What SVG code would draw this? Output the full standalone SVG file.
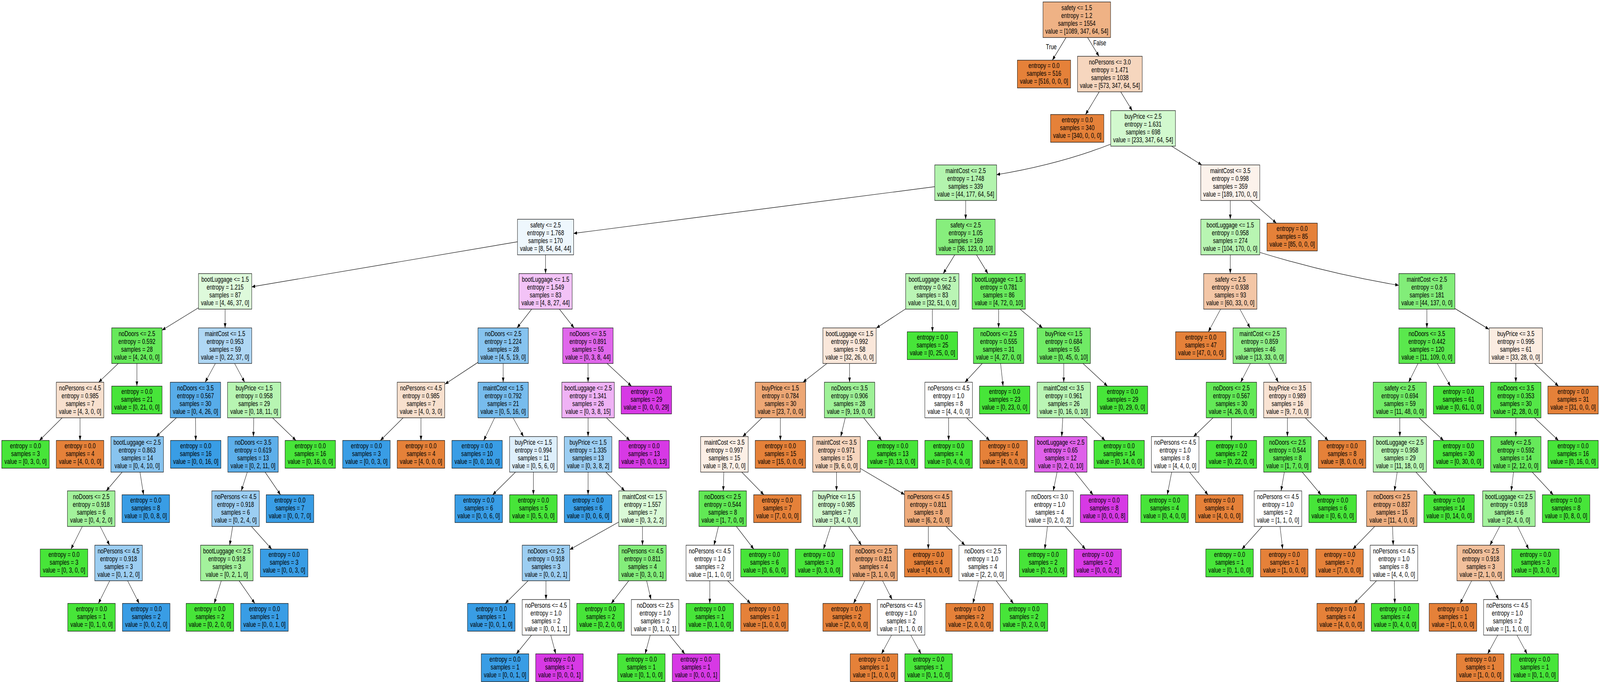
<svg xmlns="http://www.w3.org/2000/svg" width="5587" height="1745" viewBox="0 0 5587 1745" preserveAspectRatio="none" style="width:100vw;height:100vh">
<defs>
<style>
text{font-family:"Liberation Sans",Arial,Helvetica,sans-serif;font-size:18.5px;text-anchor:middle;fill:#000}
.nd rect{stroke:#000;stroke-width:1.2}
.c0{fill:#e58139}.c1{fill:#47e539}.c2{fill:#399de5}.c3{fill:#d739e5}
#edges path{fill:none;stroke:#000;stroke-width:1.2;marker-end:url(#ah)}
</style>
<marker id="ah" viewBox="0 0 12 9" refX="12" refY="4.5" markerWidth="12" markerHeight="9" orient="auto" markerUnits="userSpaceOnUse"><path d="M0,0 L12,4.5 L0,9 Z" fill="#000"/></marker>
</defs>
<rect width="5587" height="1745" fill="#fff"/>
<g id="edges">
<path d="M3722.5,96 L3674.7,154"/><path d="M3797.8,96 L3837.7,144"/>
<path d="M3838.2,235 L3790.6,293"/><path d="M3913.5,235 L3953.5,283"/>
<path d="M3878,369 Q3700,420 3480,447"/><path d="M4091.2,374 L4196.3,422"/>
<path d="M3264,477.7 L2003,597.2"/><path d="M3372,513 L3372,561"/>
<path d="M4296,513 L4296,561"/><path d="M4366.7,513 L4456.8,571"/>
<path d="M1807,618.7 L879,733.9"/><path d="M1905,652 L1905,700"/>
<path d="M3333.9,652 L3293.6,700"/><path d="M3409.8,652 L3449.7,700"/>
<path d="M4296,652 L4296,700"/><path d="M4400,646 Q4640,700 4884,730"/>
<path d="M693,787.5 L566,844.8"/><path d="M786,791 L786,839"/>
<path d="M1856.6,791 L1805.4,839"/><path d="M1953.4,791 L2004.6,839"/>
<path d="M3162,790.5 L3060,839.5"/><path d="M3255.7,791 L3256,849"/>
<path d="M3487.3,791 L3487,839"/><path d="M3561.8,791 L3640.2,839"/>
<path d="M4262.3,791 L4219.3,849"/><path d="M4329.6,791 L4365,839"/>
<path d="M4982.5,791 L4982.5,839"/><path d="M5081,789.6 L5199,842.4"/>
<path d="M413,930 L344.5,978"/><path d="M478,930 L478,988"/>
<path d="M752.1,930 L716.4,978"/><path d="M819.2,930 L854.3,978"/>
<path d="M1669,927.1 L1554,982.8"/><path d="M1757,930 L1757,978"/>
<path d="M2053.2,930 L2053.5,978"/><path d="M2119.8,930 L2204.9,988"/>
<path d="M2887.4,930 L2804,978"/><path d="M2966.5,930 L2966.5,978"/>
<path d="M3429.9,930 L3369.6,978"/><path d="M3493.9,930 L3502.6,988"/>
<path d="M3714.5,930 L3714.5,978"/><path d="M3781.6,930 L3867.1,988"/>
<path d="M4366.3,930 L4332.2,978"/><path d="M4430.3,930 L4463.8,978"/>
<path d="M4951.6,930 L4918.9,978"/><path d="M5018.7,930 L5064.8,988"/>
<path d="M5293,930 L5293,978"/><path d="M5358.5,930 L5441.9,988"/>
<path d="M217.1,1069 L137.7,1127"/><path d="M279.5,1069 L279.5,1127"/>
<path d="M615.9,1069 L545.6,1117"/><path d="M682.8,1069 L683.5,1127"/>
<path d="M886.2,1069 L884.8,1117"/><path d="M951.7,1069 L1033.4,1127"/>
<path d="M1407.6,1069 L1328.2,1127"/><path d="M1470,1069 L1470,1127"/>
<path d="M1727.2,1069 L1689.2,1127"/><path d="M1791.5,1069 L1828,1117"/>
<path d="M2053.5,1069 L2053.5,1117"/><path d="M2117.5,1069 L2199.1,1127"/>
<path d="M2661,1069 L2593.5,1117"/><path d="M2725,1069 L2725,1127"/>
<path d="M2951.6,1069 L2935.9,1117"/><path d="M3015.8,1069 L3078.6,1127"/>
<path d="M3312.5,1069 L3312.5,1127"/><path d="M3375.4,1069 L3455.5,1127"/>
<path d="M3711.1,1069 L3707.4,1117"/><path d="M3777.8,1069 L3858.6,1127"/>
<path d="M4235.7,1069 L4167.8,1117"/><path d="M4300,1069 L4300,1127"/>
<path d="M4495.5,1069 L4495.5,1117"/><path d="M4558,1069 L4637.7,1127"/>
<path d="M4888,1069 L4888,1117"/><path d="M4955.1,1069 L5040.6,1127"/>
<path d="M5293,1069 L5293,1117"/><path d="M5358.5,1069 L5441.9,1127"/>
<path d="M426.5,1208 L371,1256"/><path d="M488.8,1208 L501.3,1266"/>
<path d="M863.5,1208 L842.5,1256"/><path d="M925.7,1208 L979.6,1266"/>
<path d="M1800,1208 L1720.3,1266"/><path d="M1862.5,1208 L1862.5,1266"/>
<path d="M2053.5,1208 L2053.5,1266"/><path d="M2115.7,1208 L2181.3,1256"/>
<path d="M2527.5,1208 L2525.5,1256"/><path d="M2590.1,1208 L2667.3,1266"/>
<path d="M2921,1208 L2921,1256"/><path d="M3004,1198.5 L3158.5,1265.5"/>
<path d="M3691.2,1208 L3677.8,1256"/><path d="M3753.6,1208 L3816.8,1266"/>
<path d="M4091.4,1208 L4076,1266"/><path d="M4153.9,1208 L4218.2,1266"/>
<path d="M4484.7,1208 L4473.3,1256"/><path d="M4547.2,1208 L4613.1,1266"/>
<path d="M4878.8,1208 L4869.2,1256"/><path d="M4944.3,1208 L5016.1,1266"/>
<path d="M5285.1,1208 L5276.9,1256"/><path d="M5350.4,1208 L5423.7,1266"/>
<path d="M287.4,1347 L247.8,1405"/><path d="M349.8,1347 L382.7,1395"/>
<path d="M812.5,1347 L802,1395"/><path d="M878,1347 L948.7,1405"/>
<path d="M2160.5,1335.7 L1989.5,1406.3"/><path d="M2243.5,1347 L2243.5,1395"/>
<path d="M2508.8,1347 L2493.2,1395"/><path d="M2571.3,1347 L2632.2,1405"/>
<path d="M2901,1347 L2875.6,1405"/><path d="M2963.4,1347 L3008.1,1395"/>
<path d="M3241.5,1347 L3241.5,1405"/><path d="M3303.7,1347 L3369.3,1395"/>
<path d="M3657.6,1347 L3648.2,1405"/><path d="M3720,1347 L3790.1,1405"/>
<path d="M4407.2,1347 L4336.7,1405"/><path d="M4469.7,1347 L4478.9,1405"/>
<path d="M4800.3,1347 L4724.1,1405"/><path d="M4862.5,1347 L4865,1395"/>
<path d="M5236.8,1347 L5202.7,1395"/><path d="M5299.3,1347 L5337.9,1405"/>
<path d="M383.1,1486 L343.6,1544"/><path d="M445.6,1486 L485.9,1544"/>
<path d="M772.7,1486 L748.1,1544"/><path d="M835,1486 L889.9,1544"/>
<path d="M1844,1486 L1764.3,1544"/><path d="M1906.5,1486 L1906.5,1534"/>
<path d="M2195.5,1486 L2134.4,1544"/><path d="M2257.9,1486 L2273.1,1534"/>
<path d="M2478.5,1486 L2478.5,1544"/><path d="M2541,1486 L2620.7,1544"/>
<path d="M3019.7,1486 L2980.5,1544"/><path d="M3081.9,1486 L3115.1,1534"/>
<path d="M3416.4,1486 L3397.3,1544"/><path d="M3478.6,1486 L3538.7,1544"/>
<path d="M4806.6,1486 L4729,1544"/><path d="M4868.8,1486 L4870.5,1544"/>
<path d="M5138.8,1486 L5098.3,1544"/><path d="M5200.9,1486 L5233.1,1534"/>
<path d="M1856.1,1625 L1802.9,1673"/><path d="M1923.1,1625 L1940.6,1673"/>
<path d="M2270.6,1625 L2252.7,1673"/><path d="M2337.9,1625 L2391.2,1673"/>
<path d="M3113.2,1625 L3078,1673"/><path d="M3180.4,1625 L3216.1,1673"/>
<path d="M5230,1625 L5194.6,1673"/><path d="M5297,1625 L5332.4,1673"/>
<text x="3671" y="126">True</text>
<text x="3840" y="116">False</text>
</g>
<g id="n0" class="nd"><rect x="3642" y="5" width="236" height="91" fill="#efb285"/><text x="3760" y="26">safety &lt;= 1.5<tspan x="3760" dy="20">entropy = 1.2</tspan><tspan x="3760" dy="20">samples = 1554</tspan><tspan x="3760" dy="20">value = [1089, 347, 64, 54]</tspan></text></g>
<g id="n1" class="nd"><rect x="3552.5" y="154" width="186" height="71" class="c0"/><text x="3645.5" y="174.5">entropy = 0.0<tspan x="3645.5" dy="20">samples = 516</tspan><tspan x="3645.5" dy="20">value = [516, 0, 0, 0]</tspan></text></g>
<g id="n2" class="nd"><rect x="3762.5" y="144" width="226" height="91" fill="#f6d6be"/><text x="3875.5" y="165">noPersons &lt;= 3.0<tspan x="3875.5" dy="20">entropy = 1.471</tspan><tspan x="3875.5" dy="20">samples = 1038</tspan><tspan x="3875.5" dy="20">value = [573, 347, 64, 54]</tspan></text></g>
<g id="n3" class="nd"><rect x="3668.5" y="293" width="186" height="71" class="c0"/><text x="3761.5" y="313.5">entropy = 0.0<tspan x="3761.5" dy="20">samples = 340</tspan><tspan x="3761.5" dy="20">value = [340, 0, 0, 0]</tspan></text></g>
<g id="n4" class="nd"><rect x="3878.5" y="283" width="226" height="91" fill="#d2f9ce"/><text x="3991.5" y="304">buyPrice &lt;= 2.5<tspan x="3991.5" dy="20">entropy = 1.631</tspan><tspan x="3991.5" dy="20">samples = 698</tspan><tspan x="3991.5" dy="20">value = [233, 347, 64, 54]</tspan></text></g>
<g id="n5" class="nd"><rect x="3264" y="422" width="216" height="91" fill="#b3f4ae"/><text x="3372" y="443">maintCost &lt;= 2.5<tspan x="3372" dy="20">entropy = 1.748</tspan><tspan x="3372" dy="20">samples = 339</tspan><tspan x="3372" dy="20">value = [44, 177, 64, 54]</tspan></text></g>
<g id="n6" class="nd"><rect x="4193" y="422" width="206" height="91" fill="#fcf2eb"/><text x="4296" y="443">maintCost &lt;= 3.5<tspan x="4296" dy="20">entropy = 0.998</tspan><tspan x="4296" dy="20">samples = 359</tspan><tspan x="4296" dy="20">value = [189, 170, 0, 0]</tspan></text></g>
<g id="n7" class="nd"><rect x="1807" y="561" width="196" height="91" fill="#eef7fd"/><text x="1905" y="582">safety &lt;= 2.5<tspan x="1905" dy="20">entropy = 1.768</tspan><tspan x="1905" dy="20">samples = 170</tspan><tspan x="1905" dy="20">value = [8, 54, 64, 44]</tspan></text></g>
<g id="n8" class="nd"><rect x="3269" y="561" width="206" height="91" fill="#87ee7d"/><text x="3372" y="582">safety &lt;= 2.5<tspan x="3372" dy="20">entropy = 1.05</tspan><tspan x="3372" dy="20">samples = 169</tspan><tspan x="3372" dy="20">value = [36, 123, 0, 10]</tspan></text></g>
<g id="n9" class="nd"><rect x="4193" y="561" width="206" height="91" fill="#b8f5b2"/><text x="4296" y="582">bootLuggage &lt;= 1.5<tspan x="4296" dy="20">entropy = 0.958</tspan><tspan x="4296" dy="20">samples = 274</tspan><tspan x="4296" dy="20">value = [104, 170, 0, 0]</tspan></text></g>
<g id="n10" class="nd"><rect x="4424" y="571" width="176" height="71" class="c0"/><text x="4512" y="591.5">entropy = 0.0<tspan x="4512" dy="20">samples = 85</tspan><tspan x="4512" dy="20">value = [85, 0, 0, 0]</tspan></text></g>
<g id="n11" class="nd"><rect x="693" y="700" width="186" height="91" fill="#defadb"/><text x="786" y="721">bootLuggage &lt;= 1.5<tspan x="786" dy="20">entropy = 1.215</tspan><tspan x="786" dy="20">samples = 87</tspan><tspan x="786" dy="20">value = [4, 46, 37, 0]</tspan></text></g>
<g id="n12" class="nd"><rect x="1812" y="700" width="186" height="91" fill="#f3c3f7"/><text x="1905" y="721">bootLuggage &lt;= 1.5<tspan x="1905" dy="20">entropy = 1.549</tspan><tspan x="1905" dy="20">samples = 83</tspan><tspan x="1905" dy="20">value = [4, 8, 27, 44]</tspan></text></g>
<g id="n13" class="nd"><rect x="3162.5" y="700" width="186" height="91" fill="#baf5b5"/><text x="3255.5" y="721">bootLuggage &lt;= 2.5<tspan x="3255.5" dy="20">entropy = 0.962</tspan><tspan x="3255.5" dy="20">samples = 83</tspan><tspan x="3255.5" dy="20">value = [32, 51, 0, 0]</tspan></text></g>
<g id="n14" class="nd"><rect x="3394.5" y="700" width="186" height="91" fill="#69ea5d"/><text x="3487.5" y="721">bootLuggage &lt;= 1.5<tspan x="3487.5" dy="20">entropy = 0.781</tspan><tspan x="3487.5" dy="20">samples = 86</tspan><tspan x="3487.5" dy="20">value = [4, 72, 0, 10]</tspan></text></g>
<g id="n15" class="nd"><rect x="4203" y="700" width="186" height="91" fill="#f3c6a6"/><text x="4296" y="721">safety &lt;= 2.5<tspan x="4296" dy="20">entropy = 0.938</tspan><tspan x="4296" dy="20">samples = 93</tspan><tspan x="4296" dy="20">value = [60, 33, 0, 0]</tspan></text></g>
<g id="n16" class="nd"><rect x="4884.5" y="700" width="196" height="91" fill="#82ed79"/><text x="4982.5" y="721">maintCost &lt;= 2.5<tspan x="4982.5" dy="20">entropy = 0.8</tspan><tspan x="4982.5" dy="20">samples = 181</tspan><tspan x="4982.5" dy="20">value = [44, 137, 0, 0]</tspan></text></g>
<g id="n17" class="nd"><rect x="390" y="839" width="176" height="91" fill="#66e95a"/><text x="478" y="860">noDoors &lt;= 2.5<tspan x="478" dy="20">entropy = 0.592</tspan><tspan x="478" dy="20">samples = 28</tspan><tspan x="478" dy="20">value = [4, 24, 0, 0]</tspan></text></g>
<g id="n18" class="nd"><rect x="693" y="839" width="186" height="91" fill="#afd7f4"/><text x="786" y="860">maintCost &lt;= 1.5<tspan x="786" dy="20">entropy = 0.953</tspan><tspan x="786" dy="20">samples = 59</tspan><tspan x="786" dy="20">value = [0, 22, 37, 0]</tspan></text></g>
<g id="n19" class="nd"><rect x="1669" y="839" width="176" height="91" fill="#86c3ef"/><text x="1757" y="860">noDoors &lt;= 2.5<tspan x="1757" dy="20">entropy = 1.224</tspan><tspan x="1757" dy="20">samples = 28</tspan><tspan x="1757" dy="20">value = [4, 5, 19, 0]</tspan></text></g>
<g id="n20" class="nd"><rect x="1965" y="839" width="176" height="91" fill="#e067eb"/><text x="2053" y="860">noDoors &lt;= 3.5<tspan x="2053" dy="20">entropy = 0.891</tspan><tspan x="2053" dy="20">samples = 55</tspan><tspan x="2053" dy="20">value = [0, 3, 8, 44]</tspan></text></g>
<g id="n21" class="nd"><rect x="2873.5" y="839" width="186" height="91" fill="#fae7da"/><text x="2966.5" y="860">bootLuggage &lt;= 1.5<tspan x="2966.5" dy="20">entropy = 0.992</tspan><tspan x="2966.5" dy="20">samples = 58</tspan><tspan x="2966.5" dy="20">value = [32, 26, 0, 0]</tspan></text></g>
<g id="n22" class="nd"><rect x="3168" y="849" width="176" height="71" class="c1"/><text x="3256" y="869.5">entropy = 0.0<tspan x="3256" dy="20">samples = 25</tspan><tspan x="3256" dy="20">value = [0, 25, 0, 0]</tspan></text></g>
<g id="n23" class="nd"><rect x="3399" y="839" width="176" height="91" fill="#62e956"/><text x="3487" y="860">noDoors &lt;= 2.5<tspan x="3487" dy="20">entropy = 0.555</tspan><tspan x="3487" dy="20">samples = 31</tspan><tspan x="3487" dy="20">value = [4, 27, 0, 0]</tspan></text></g>
<g id="n24" class="nd"><rect x="3621.5" y="839" width="186" height="91" fill="#70eb65"/><text x="3714.5" y="860">buyPrice &lt;= 1.5<tspan x="3714.5" dy="20">entropy = 0.684</tspan><tspan x="3714.5" dy="20">samples = 55</tspan><tspan x="3714.5" dy="20">value = [0, 45, 0, 10]</tspan></text></g>
<g id="n25" class="nd"><rect x="4105" y="849" width="176" height="71" class="c0"/><text x="4193" y="869.5">entropy = 0.0<tspan x="4193" dy="20">samples = 47</tspan><tspan x="4193" dy="20">value = [47, 0, 0, 0]</tspan></text></g>
<g id="n26" class="nd"><rect x="4305.5" y="839" width="186" height="91" fill="#8fef87"/><text x="4398.5" y="860">maintCost &lt;= 2.5<tspan x="4398.5" dy="20">entropy = 0.859</tspan><tspan x="4398.5" dy="20">samples = 46</tspan><tspan x="4398.5" dy="20">value = [13, 33, 0, 0]</tspan></text></g>
<g id="n27" class="nd"><rect x="4884.5" y="839" width="196" height="91" fill="#5ae84d"/><text x="4982.5" y="860">noDoors &lt;= 3.5<tspan x="4982.5" dy="20">entropy = 0.442</tspan><tspan x="4982.5" dy="20">samples = 120</tspan><tspan x="4982.5" dy="20">value = [11, 109, 0, 0]</tspan></text></g>
<g id="n28" class="nd"><rect x="5200" y="839" width="186" height="91" fill="#fbece1"/><text x="5293" y="860">buyPrice &lt;= 3.5<tspan x="5293" dy="20">entropy = 0.995</tspan><tspan x="5293" dy="20">samples = 61</tspan><tspan x="5293" dy="20">value = [33, 28, 0, 0]</tspan></text></g>
<g id="n29" class="nd"><rect x="196.5" y="978" width="166" height="91" fill="#f8e0ce"/><text x="279.5" y="999">noPersons &lt;= 4.5<tspan x="279.5" dy="20">entropy = 0.985</tspan><tspan x="279.5" dy="20">samples = 7</tspan><tspan x="279.5" dy="20">value = [4, 3, 0, 0]</tspan></text></g>
<g id="n30" class="nd"><rect x="390" y="988" width="176" height="71" class="c1"/><text x="478" y="1008.5">entropy = 0.0<tspan x="478" dy="20">samples = 21</tspan><tspan x="478" dy="20">value = [0, 21, 0, 0]</tspan></text></g>
<g id="n31" class="nd"><rect x="594.5" y="978" width="176" height="91" fill="#57ace9"/><text x="682.5" y="999">noDoors &lt;= 3.5<tspan x="682.5" dy="20">entropy = 0.567</tspan><tspan x="682.5" dy="20">samples = 30</tspan><tspan x="682.5" dy="20">value = [0, 4, 26, 0]</tspan></text></g>
<g id="n32" class="nd"><rect x="794.5" y="978" width="186" height="91" fill="#b7f5b2"/><text x="887.5" y="999">buyPrice &lt;= 1.5<tspan x="887.5" dy="20">entropy = 0.958</tspan><tspan x="887.5" dy="20">samples = 29</tspan><tspan x="887.5" dy="20">value = [0, 18, 11, 0]</tspan></text></g>
<g id="n33" class="nd"><rect x="1387" y="978" width="166" height="91" fill="#f8e0ce"/><text x="1470" y="999">noPersons &lt;= 4.5<tspan x="1470" dy="20">entropy = 0.985</tspan><tspan x="1470" dy="20">samples = 7</tspan><tspan x="1470" dy="20">value = [4, 0, 3, 0]</tspan></text></g>
<g id="n34" class="nd"><rect x="1669" y="978" width="176" height="91" fill="#77bced"/><text x="1757" y="999">maintCost &lt;= 1.5<tspan x="1757" dy="20">entropy = 0.792</tspan><tspan x="1757" dy="20">samples = 21</tspan><tspan x="1757" dy="20">value = [0, 5, 16, 0]</tspan></text></g>
<g id="n35" class="nd"><rect x="1961.75" y="978" width="183.5" height="91" fill="#efb2f5"/><text x="2053.5" y="999">bootLuggage &lt;= 2.5<tspan x="2053.5" dy="20">entropy = 1.341</tspan><tspan x="2053.5" dy="20">samples = 26</tspan><tspan x="2053.5" dy="20">value = [0, 3, 8, 15]</tspan></text></g>
<g id="n36" class="nd"><rect x="2169" y="988" width="176" height="71" class="c3"/><text x="2257" y="1008.5">entropy = 0.0<tspan x="2257" dy="20">samples = 29</tspan><tspan x="2257" dy="20">value = [0, 0, 0, 29]</tspan></text></g>
<g id="n37" class="nd"><rect x="2637" y="978" width="176" height="91" fill="#eda775"/><text x="2725" y="999">buyPrice &lt;= 1.5<tspan x="2725" dy="20">entropy = 0.784</tspan><tspan x="2725" dy="20">samples = 30</tspan><tspan x="2725" dy="20">value = [23, 7, 0, 0]</tspan></text></g>
<g id="n38" class="nd"><rect x="2878.5" y="978" width="176" height="91" fill="#9ef197"/><text x="2966.5" y="999">noDoors &lt;= 3.5<tspan x="2966.5" dy="20">entropy = 0.906</tspan><tspan x="2966.5" dy="20">samples = 28</tspan><tspan x="2966.5" dy="20">value = [9, 19, 0, 0]</tspan></text></g>
<g id="n39" class="nd"><rect x="3229.5" y="978" width="166" height="91" fill="#ffffff"/><text x="3312.5" y="999">noPersons &lt;= 4.5<tspan x="3312.5" dy="20">entropy = 1.0</tspan><tspan x="3312.5" dy="20">samples = 8</tspan><tspan x="3312.5" dy="20">value = [4, 4, 0, 0]</tspan></text></g>
<g id="n40" class="nd"><rect x="3420" y="988" width="176" height="71" class="c1"/><text x="3508" y="1008.5">entropy = 0.0<tspan x="3508" dy="20">samples = 23</tspan><tspan x="3508" dy="20">value = [0, 23, 0, 0]</tspan></text></g>
<g id="n41" class="nd"><rect x="3621.5" y="978" width="186" height="91" fill="#baf5b5"/><text x="3714.5" y="999">maintCost &lt;= 3.5<tspan x="3714.5" dy="20">entropy = 0.961</tspan><tspan x="3714.5" dy="20">samples = 26</tspan><tspan x="3714.5" dy="20">value = [0, 16, 0, 10]</tspan></text></g>
<g id="n42" class="nd"><rect x="3831.5" y="988" width="176" height="71" class="c1"/><text x="3919.5" y="1008.5">entropy = 0.0<tspan x="3919.5" dy="20">samples = 29</tspan><tspan x="3919.5" dy="20">value = [0, 29, 0, 0]</tspan></text></g>
<g id="n43" class="nd"><rect x="4212" y="978" width="176" height="91" fill="#63e957"/><text x="4300" y="999">noDoors &lt;= 2.5<tspan x="4300" dy="20">entropy = 0.567</tspan><tspan x="4300" dy="20">samples = 30</tspan><tspan x="4300" dy="20">value = [4, 26, 0, 0]</tspan></text></g>
<g id="n44" class="nd"><rect x="4412.5" y="978" width="166" height="91" fill="#f9e3d3"/><text x="4495.5" y="999">buyPrice &lt;= 3.5<tspan x="4495.5" dy="20">entropy = 0.989</tspan><tspan x="4495.5" dy="20">samples = 16</tspan><tspan x="4495.5" dy="20">value = [9, 7, 0, 0]</tspan></text></g>
<g id="n45" class="nd"><rect x="4795" y="978" width="186" height="91" fill="#71eb66"/><text x="4888" y="999">safety &lt;= 2.5<tspan x="4888" dy="20">entropy = 0.694</tspan><tspan x="4888" dy="20">samples = 59</tspan><tspan x="4888" dy="20">value = [11, 48, 0, 0]</tspan></text></g>
<g id="n46" class="nd"><rect x="5005" y="988" width="176" height="71" class="c1"/><text x="5093" y="1008.5">entropy = 0.0<tspan x="5093" dy="20">samples = 61</tspan><tspan x="5093" dy="20">value = [0, 61, 0, 0]</tspan></text></g>
<g id="n47" class="nd"><rect x="5205" y="978" width="176" height="91" fill="#54e747"/><text x="5293" y="999">noDoors &lt;= 3.5<tspan x="5293" dy="20">entropy = 0.353</tspan><tspan x="5293" dy="20">samples = 30</tspan><tspan x="5293" dy="20">value = [2, 28, 0, 0]</tspan></text></g>
<g id="n48" class="nd"><rect x="5405" y="988" width="176" height="71" class="c0"/><text x="5493" y="1008.5">entropy = 0.0<tspan x="5493" dy="20">samples = 31</tspan><tspan x="5493" dy="20">value = [31, 0, 0, 0]</tspan></text></g>
<g id="n49" class="nd"><rect x="6" y="1127" width="166" height="71" class="c1"/><text x="89" y="1147.5">entropy = 0.0<tspan x="89" dy="20">samples = 3</tspan><tspan x="89" dy="20">value = [0, 3, 0, 0]</tspan></text></g>
<g id="n50" class="nd"><rect x="196.5" y="1127" width="166" height="71" class="c0"/><text x="279.5" y="1147.5">entropy = 0.0<tspan x="279.5" dy="20">samples = 4</tspan><tspan x="279.5" dy="20">value = [4, 0, 0, 0]</tspan></text></g>
<g id="n51" class="nd"><rect x="387.25" y="1117" width="183.5" height="91" fill="#88c4ef"/><text x="479" y="1138">bootLuggage &lt;= 2.5<tspan x="479" dy="20">entropy = 0.863</tspan><tspan x="479" dy="20">samples = 14</tspan><tspan x="479" dy="20">value = [0, 4, 10, 0]</tspan></text></g>
<g id="n52" class="nd"><rect x="595.5" y="1127" width="176" height="71" class="c2"/><text x="683.5" y="1147.5">entropy = 0.0<tspan x="683.5" dy="20">samples = 16</tspan><tspan x="683.5" dy="20">value = [0, 0, 16, 0]</tspan></text></g>
<g id="n53" class="nd"><rect x="795.5" y="1117" width="176" height="91" fill="#5dafea"/><text x="883.5" y="1138">noDoors &lt;= 3.5<tspan x="883.5" dy="20">entropy = 0.619</tspan><tspan x="883.5" dy="20">samples = 13</tspan><tspan x="883.5" dy="20">value = [0, 2, 11, 0]</tspan></text></g>
<g id="n54" class="nd"><rect x="995.5" y="1127" width="176" height="71" class="c1"/><text x="1083.5" y="1147.5">entropy = 0.0<tspan x="1083.5" dy="20">samples = 16</tspan><tspan x="1083.5" dy="20">value = [0, 16, 0, 0]</tspan></text></g>
<g id="n55" class="nd"><rect x="1196.5" y="1127" width="166" height="71" class="c2"/><text x="1279.5" y="1147.5">entropy = 0.0<tspan x="1279.5" dy="20">samples = 3</tspan><tspan x="1279.5" dy="20">value = [0, 0, 3, 0]</tspan></text></g>
<g id="n56" class="nd"><rect x="1387" y="1127" width="166" height="71" class="c0"/><text x="1470" y="1147.5">entropy = 0.0<tspan x="1470" dy="20">samples = 4</tspan><tspan x="1470" dy="20">value = [4, 0, 0, 0]</tspan></text></g>
<g id="n57" class="nd"><rect x="1578" y="1127" width="176" height="71" class="c2"/><text x="1666" y="1147.5">entropy = 0.0<tspan x="1666" dy="20">samples = 10</tspan><tspan x="1666" dy="20">value = [0, 0, 10, 0]</tspan></text></g>
<g id="n58" class="nd"><rect x="1779.5" y="1117" width="166" height="91" fill="#deeffb"/><text x="1862.5" y="1138">buyPrice &lt;= 1.5<tspan x="1862.5" dy="20">entropy = 0.994</tspan><tspan x="1862.5" dy="20">samples = 11</tspan><tspan x="1862.5" dy="20">value = [0, 5, 6, 0]</tspan></text></g>
<g id="n59" class="nd"><rect x="1970.5" y="1117" width="166" height="91" fill="#9ccef2"/><text x="2053.5" y="1138">buyPrice &lt;= 1.5<tspan x="2053.5" dy="20">entropy = 1.335</tspan><tspan x="2053.5" dy="20">samples = 13</tspan><tspan x="2053.5" dy="20">value = [0, 3, 8, 2]</tspan></text></g>
<g id="n60" class="nd"><rect x="2161" y="1127" width="176" height="71" class="c3"/><text x="2249" y="1147.5">entropy = 0.0<tspan x="2249" dy="20">samples = 13</tspan><tspan x="2249" dy="20">value = [0, 0, 0, 13]</tspan></text></g>
<g id="n61" class="nd"><rect x="2446.5" y="1117" width="166" height="91" fill="#fcefe6"/><text x="2529.5" y="1138">maintCost &lt;= 3.5<tspan x="2529.5" dy="20">entropy = 0.997</tspan><tspan x="2529.5" dy="20">samples = 15</tspan><tspan x="2529.5" dy="20">value = [8, 7, 0, 0]</tspan></text></g>
<g id="n62" class="nd"><rect x="2637" y="1127" width="176" height="71" class="c0"/><text x="2725" y="1147.5">entropy = 0.0<tspan x="2725" dy="20">samples = 15</tspan><tspan x="2725" dy="20">value = [15, 0, 0, 0]</tspan></text></g>
<g id="n63" class="nd"><rect x="2838" y="1117" width="166" height="91" fill="#f6d5bd"/><text x="2921" y="1138">maintCost &lt;= 3.5<tspan x="2921" dy="20">entropy = 0.971</tspan><tspan x="2921" dy="20">samples = 15</tspan><tspan x="2921" dy="20">value = [9, 6, 0, 0]</tspan></text></g>
<g id="n64" class="nd"><rect x="3029" y="1127" width="176" height="71" class="c1"/><text x="3117" y="1147.5">entropy = 0.0<tspan x="3117" dy="20">samples = 13</tspan><tspan x="3117" dy="20">value = [0, 13, 0, 0]</tspan></text></g>
<g id="n65" class="nd"><rect x="3229.5" y="1127" width="166" height="71" class="c1"/><text x="3312.5" y="1147.5">entropy = 0.0<tspan x="3312.5" dy="20">samples = 4</tspan><tspan x="3312.5" dy="20">value = [0, 4, 0, 0]</tspan></text></g>
<g id="n66" class="nd"><rect x="3421.5" y="1127" width="166" height="71" class="c0"/><text x="3504.5" y="1147.5">entropy = 0.0<tspan x="3504.5" dy="20">samples = 4</tspan><tspan x="3504.5" dy="20">value = [4, 0, 0, 0]</tspan></text></g>
<g id="n67" class="nd"><rect x="3612.25" y="1117" width="183.5" height="91" fill="#df61ea"/><text x="3704" y="1138">bootLuggage &lt;= 2.5<tspan x="3704" dy="20">entropy = 0.65</tspan><tspan x="3704" dy="20">samples = 12</tspan><tspan x="3704" dy="20">value = [0, 2, 0, 10]</tspan></text></g>
<g id="n68" class="nd"><rect x="3820" y="1127" width="176" height="71" class="c1"/><text x="3908" y="1147.5">entropy = 0.0<tspan x="3908" dy="20">samples = 14</tspan><tspan x="3908" dy="20">value = [0, 14, 0, 0]</tspan></text></g>
<g id="n69" class="nd"><rect x="4020.5" y="1117" width="166" height="91" fill="#ffffff"/><text x="4103.5" y="1138">noPersons &lt;= 4.5<tspan x="4103.5" dy="20">entropy = 1.0</tspan><tspan x="4103.5" dy="20">samples = 8</tspan><tspan x="4103.5" dy="20">value = [4, 4, 0, 0]</tspan></text></g>
<g id="n70" class="nd"><rect x="4212" y="1127" width="176" height="71" class="c1"/><text x="4300" y="1147.5">entropy = 0.0<tspan x="4300" dy="20">samples = 22</tspan><tspan x="4300" dy="20">value = [0, 22, 0, 0]</tspan></text></g>
<g id="n71" class="nd"><rect x="4412.5" y="1117" width="166" height="91" fill="#61e955"/><text x="4495.5" y="1138">noDoors &lt;= 2.5<tspan x="4495.5" dy="20">entropy = 0.544</tspan><tspan x="4495.5" dy="20">samples = 8</tspan><tspan x="4495.5" dy="20">value = [1, 7, 0, 0]</tspan></text></g>
<g id="n72" class="nd"><rect x="4603.5" y="1127" width="166" height="71" class="c0"/><text x="4686.5" y="1147.5">entropy = 0.0<tspan x="4686.5" dy="20">samples = 8</tspan><tspan x="4686.5" dy="20">value = [8, 0, 0, 0]</tspan></text></g>
<g id="n73" class="nd"><rect x="4795" y="1117" width="186" height="91" fill="#b7f5b2"/><text x="4888" y="1138">bootLuggage &lt;= 2.5<tspan x="4888" dy="20">entropy = 0.958</tspan><tspan x="4888" dy="20">samples = 29</tspan><tspan x="4888" dy="20">value = [11, 18, 0, 0]</tspan></text></g>
<g id="n74" class="nd"><rect x="5005" y="1127" width="176" height="71" class="c1"/><text x="5093" y="1147.5">entropy = 0.0<tspan x="5093" dy="20">samples = 30</tspan><tspan x="5093" dy="20">value = [0, 30, 0, 0]</tspan></text></g>
<g id="n75" class="nd"><rect x="5205" y="1117" width="176" height="91" fill="#66e95a"/><text x="5293" y="1138">safety &lt;= 2.5<tspan x="5293" dy="20">entropy = 0.592</tspan><tspan x="5293" dy="20">samples = 14</tspan><tspan x="5293" dy="20">value = [2, 12, 0, 0]</tspan></text></g>
<g id="n76" class="nd"><rect x="5405" y="1127" width="176" height="71" class="c1"/><text x="5493" y="1147.5">entropy = 0.0<tspan x="5493" dy="20">samples = 16</tspan><tspan x="5493" dy="20">value = [0, 16, 0, 0]</tspan></text></g>
<g id="n77" class="nd"><rect x="235.5" y="1256" width="166" height="91" fill="#a3f29c"/><text x="318.5" y="1277">noDoors &lt;= 2.5<tspan x="318.5" dy="20">entropy = 0.918</tspan><tspan x="318.5" dy="20">samples = 6</tspan><tspan x="318.5" dy="20">value = [0, 4, 2, 0]</tspan></text></g>
<g id="n78" class="nd"><rect x="426" y="1266" width="166" height="71" class="c2"/><text x="509" y="1286.5">entropy = 0.0<tspan x="509" dy="20">samples = 8</tspan><tspan x="509" dy="20">value = [0, 0, 8, 0]</tspan></text></g>
<g id="n79" class="nd"><rect x="739.5" y="1256" width="166" height="91" fill="#9ccef2"/><text x="822.5" y="1277">noPersons &lt;= 4.5<tspan x="822.5" dy="20">entropy = 0.918</tspan><tspan x="822.5" dy="20">samples = 6</tspan><tspan x="822.5" dy="20">value = [0, 2, 4, 0]</tspan></text></g>
<g id="n80" class="nd"><rect x="929.5" y="1266" width="166" height="71" class="c2"/><text x="1012.5" y="1286.5">entropy = 0.0<tspan x="1012.5" dy="20">samples = 7</tspan><tspan x="1012.5" dy="20">value = [0, 0, 7, 0]</tspan></text></g>
<g id="n81" class="nd"><rect x="1588.5" y="1266" width="166" height="71" class="c2"/><text x="1671.5" y="1286.5">entropy = 0.0<tspan x="1671.5" dy="20">samples = 6</tspan><tspan x="1671.5" dy="20">value = [0, 0, 6, 0]</tspan></text></g>
<g id="n82" class="nd"><rect x="1779.5" y="1266" width="166" height="71" class="c1"/><text x="1862.5" y="1286.5">entropy = 0.0<tspan x="1862.5" dy="20">samples = 5</tspan><tspan x="1862.5" dy="20">value = [0, 5, 0, 0]</tspan></text></g>
<g id="n83" class="nd"><rect x="1970.5" y="1266" width="166" height="71" class="c2"/><text x="2053.5" y="1286.5">entropy = 0.0<tspan x="2053.5" dy="20">samples = 6</tspan><tspan x="2053.5" dy="20">value = [0, 0, 6, 0]</tspan></text></g>
<g id="n84" class="nd"><rect x="2160.5" y="1256" width="166" height="91" fill="#dafad7"/><text x="2243.5" y="1277">maintCost &lt;= 1.5<tspan x="2243.5" dy="20">entropy = 1.557</tspan><tspan x="2243.5" dy="20">samples = 7</tspan><tspan x="2243.5" dy="20">value = [0, 3, 2, 2]</tspan></text></g>
<g id="n85" class="nd"><rect x="2440.5" y="1256" width="166" height="91" fill="#61e955"/><text x="2523.5" y="1277">noDoors &lt;= 2.5<tspan x="2523.5" dy="20">entropy = 0.544</tspan><tspan x="2523.5" dy="20">samples = 8</tspan><tspan x="2523.5" dy="20">value = [1, 7, 0, 0]</tspan></text></g>
<g id="n86" class="nd"><rect x="2631.5" y="1266" width="166" height="71" class="c0"/><text x="2714.5" y="1286.5">entropy = 0.0<tspan x="2714.5" dy="20">samples = 7</tspan><tspan x="2714.5" dy="20">value = [7, 0, 0, 0]</tspan></text></g>
<g id="n87" class="nd"><rect x="2838" y="1256" width="166" height="91" fill="#d1f8ce"/><text x="2921" y="1277">buyPrice &lt;= 1.5<tspan x="2921" dy="20">entropy = 0.985</tspan><tspan x="2921" dy="20">samples = 7</tspan><tspan x="2921" dy="20">value = [3, 4, 0, 0]</tspan></text></g>
<g id="n88" class="nd"><rect x="3158.5" y="1256" width="166" height="91" fill="#eeab7b"/><text x="3241.5" y="1277">noPersons &lt;= 4.5<tspan x="3241.5" dy="20">entropy = 0.811</tspan><tspan x="3241.5" dy="20">samples = 8</tspan><tspan x="3241.5" dy="20">value = [6, 2, 0, 0]</tspan></text></g>
<g id="n89" class="nd"><rect x="3582" y="1256" width="166" height="91" fill="#ffffff"/><text x="3665" y="1277">noDoors &lt;= 3.0<tspan x="3665" dy="20">entropy = 1.0</tspan><tspan x="3665" dy="20">samples = 4</tspan><tspan x="3665" dy="20">value = [0, 2, 0, 2]</tspan></text></g>
<g id="n90" class="nd"><rect x="3772.5" y="1266" width="166" height="71" class="c3"/><text x="3855.5" y="1286.5">entropy = 0.0<tspan x="3855.5" dy="20">samples = 8</tspan><tspan x="3855.5" dy="20">value = [0, 0, 0, 8]</tspan></text></g>
<g id="n91" class="nd"><rect x="3983.5" y="1266" width="166" height="71" class="c1"/><text x="4066.5" y="1286.5">entropy = 0.0<tspan x="4066.5" dy="20">samples = 4</tspan><tspan x="4066.5" dy="20">value = [0, 4, 0, 0]</tspan></text></g>
<g id="n92" class="nd"><rect x="4174.5" y="1266" width="166" height="71" class="c0"/><text x="4257.5" y="1286.5">entropy = 0.0<tspan x="4257.5" dy="20">samples = 4</tspan><tspan x="4257.5" dy="20">value = [4, 0, 0, 0]</tspan></text></g>
<g id="n93" class="nd"><rect x="4379.5" y="1256" width="166" height="91" fill="#ffffff"/><text x="4462.5" y="1277">noPersons &lt;= 4.5<tspan x="4462.5" dy="20">entropy = 1.0</tspan><tspan x="4462.5" dy="20">samples = 2</tspan><tspan x="4462.5" dy="20">value = [1, 1, 0, 0]</tspan></text></g>
<g id="n94" class="nd"><rect x="4570.5" y="1266" width="166" height="71" class="c1"/><text x="4653.5" y="1286.5">entropy = 0.0<tspan x="4653.5" dy="20">samples = 6</tspan><tspan x="4653.5" dy="20">value = [0, 6, 0, 0]</tspan></text></g>
<g id="n95" class="nd"><rect x="4772" y="1256" width="176" height="91" fill="#eeaf81"/><text x="4860" y="1277">noDoors &lt;= 2.5<tspan x="4860" dy="20">entropy = 0.837</tspan><tspan x="4860" dy="20">samples = 15</tspan><tspan x="4860" dy="20">value = [11, 4, 0, 0]</tspan></text></g>
<g id="n96" class="nd"><rect x="4972" y="1266" width="176" height="71" class="c1"/><text x="5060" y="1286.5">entropy = 0.0<tspan x="5060" dy="20">samples = 14</tspan><tspan x="5060" dy="20">value = [0, 14, 0, 0]</tspan></text></g>
<g id="n97" class="nd"><rect x="5177.25" y="1256" width="183.5" height="91" fill="#a3f29c"/><text x="5269" y="1277">bootLuggage &lt;= 2.5<tspan x="5269" dy="20">entropy = 0.918</tspan><tspan x="5269" dy="20">samples = 6</tspan><tspan x="5269" dy="20">value = [2, 4, 0, 0]</tspan></text></g>
<g id="n98" class="nd"><rect x="5385.5" y="1266" width="166" height="71" class="c1"/><text x="5468.5" y="1286.5">entropy = 0.0<tspan x="5468.5" dy="20">samples = 8</tspan><tspan x="5468.5" dy="20">value = [0, 8, 0, 0]</tspan></text></g>
<g id="n99" class="nd"><rect x="140.5" y="1405" width="166" height="71" class="c1"/><text x="223.5" y="1425.5">entropy = 0.0<tspan x="223.5" dy="20">samples = 3</tspan><tspan x="223.5" dy="20">value = [0, 3, 0, 0]</tspan></text></g>
<g id="n100" class="nd"><rect x="331" y="1395" width="166" height="91" fill="#9ccef2"/><text x="414" y="1416">noPersons &lt;= 4.5<tspan x="414" dy="20">entropy = 0.918</tspan><tspan x="414" dy="20">samples = 3</tspan><tspan x="414" dy="20">value = [0, 1, 2, 0]</tspan></text></g>
<g id="n101" class="nd"><rect x="700.25" y="1395" width="183.5" height="91" fill="#a3f29c"/><text x="792" y="1416">bootLuggage &lt;= 2.5<tspan x="792" dy="20">entropy = 0.918</tspan><tspan x="792" dy="20">samples = 3</tspan><tspan x="792" dy="20">value = [0, 2, 1, 0]</tspan></text></g>
<g id="n102" class="nd"><rect x="909" y="1405" width="166" height="71" class="c2"/><text x="992" y="1425.5">entropy = 0.0<tspan x="992" dy="20">samples = 3</tspan><tspan x="992" dy="20">value = [0, 0, 3, 0]</tspan></text></g>
<g id="n103" class="nd"><rect x="1823.5" y="1395" width="166" height="91" fill="#9ccef2"/><text x="1906.5" y="1416">noDoors &lt;= 2.5<tspan x="1906.5" dy="20">entropy = 0.918</tspan><tspan x="1906.5" dy="20">samples = 3</tspan><tspan x="1906.5" dy="20">value = [0, 0, 2, 1]</tspan></text></g>
<g id="n104" class="nd"><rect x="2160.5" y="1395" width="166" height="91" fill="#84ee7b"/><text x="2243.5" y="1416">noPersons &lt;= 4.5<tspan x="2243.5" dy="20">entropy = 0.811</tspan><tspan x="2243.5" dy="20">samples = 4</tspan><tspan x="2243.5" dy="20">value = [0, 3, 0, 1]</tspan></text></g>
<g id="n105" class="nd"><rect x="2395.5" y="1395" width="166" height="91" fill="#ffffff"/><text x="2478.5" y="1416">noPersons &lt;= 4.5<tspan x="2478.5" dy="20">entropy = 1.0</tspan><tspan x="2478.5" dy="20">samples = 2</tspan><tspan x="2478.5" dy="20">value = [1, 1, 0, 0]</tspan></text></g>
<g id="n106" class="nd"><rect x="2586.5" y="1405" width="166" height="71" class="c1"/><text x="2669.5" y="1425.5">entropy = 0.0<tspan x="2669.5" dy="20">samples = 6</tspan><tspan x="2669.5" dy="20">value = [0, 6, 0, 0]</tspan></text></g>
<g id="n107" class="nd"><rect x="2777" y="1405" width="166" height="71" class="c1"/><text x="2860" y="1425.5">entropy = 0.0<tspan x="2860" dy="20">samples = 3</tspan><tspan x="2860" dy="20">value = [0, 3, 0, 0]</tspan></text></g>
<g id="n108" class="nd"><rect x="2967.5" y="1395" width="166" height="91" fill="#eeab7b"/><text x="3050.5" y="1416">noDoors &lt;= 2.5<tspan x="3050.5" dy="20">entropy = 0.811</tspan><tspan x="3050.5" dy="20">samples = 4</tspan><tspan x="3050.5" dy="20">value = [3, 1, 0, 0]</tspan></text></g>
<g id="n109" class="nd"><rect x="3158.5" y="1405" width="166" height="71" class="c0"/><text x="3241.5" y="1425.5">entropy = 0.0<tspan x="3241.5" dy="20">samples = 4</tspan><tspan x="3241.5" dy="20">value = [4, 0, 0, 0]</tspan></text></g>
<g id="n110" class="nd"><rect x="3348.5" y="1395" width="166" height="91" fill="#ffffff"/><text x="3431.5" y="1416">noDoors &lt;= 2.5<tspan x="3431.5" dy="20">entropy = 1.0</tspan><tspan x="3431.5" dy="20">samples = 4</tspan><tspan x="3431.5" dy="20">value = [2, 2, 0, 0]</tspan></text></g>
<g id="n111" class="nd"><rect x="3559.5" y="1405" width="166" height="71" class="c1"/><text x="3642.5" y="1425.5">entropy = 0.0<tspan x="3642.5" dy="20">samples = 2</tspan><tspan x="3642.5" dy="20">value = [0, 2, 0, 0]</tspan></text></g>
<g id="n112" class="nd"><rect x="3750" y="1405" width="166" height="71" class="c3"/><text x="3833" y="1425.5">entropy = 0.0<tspan x="3833" dy="20">samples = 2</tspan><tspan x="3833" dy="20">value = [0, 0, 0, 2]</tspan></text></g>
<g id="n113" class="nd"><rect x="4210.5" y="1405" width="166" height="71" class="c1"/><text x="4293.5" y="1425.5">entropy = 0.0<tspan x="4293.5" dy="20">samples = 1</tspan><tspan x="4293.5" dy="20">value = [0, 1, 0, 0]</tspan></text></g>
<g id="n114" class="nd"><rect x="4401.5" y="1405" width="166" height="71" class="c0"/><text x="4484.5" y="1425.5">entropy = 0.0<tspan x="4484.5" dy="20">samples = 1</tspan><tspan x="4484.5" dy="20">value = [1, 0, 0, 0]</tspan></text></g>
<g id="n115" class="nd"><rect x="4594.5" y="1405" width="166" height="71" class="c0"/><text x="4677.5" y="1425.5">entropy = 0.0<tspan x="4677.5" dy="20">samples = 7</tspan><tspan x="4677.5" dy="20">value = [7, 0, 0, 0]</tspan></text></g>
<g id="n116" class="nd"><rect x="4784.5" y="1395" width="166" height="91" fill="#ffffff"/><text x="4867.5" y="1416">noPersons &lt;= 4.5<tspan x="4867.5" dy="20">entropy = 1.0</tspan><tspan x="4867.5" dy="20">samples = 8</tspan><tspan x="4867.5" dy="20">value = [4, 4, 0, 0]</tspan></text></g>
<g id="n117" class="nd"><rect x="5087.5" y="1395" width="166" height="91" fill="#f2c09c"/><text x="5170.5" y="1416">noDoors &lt;= 2.5<tspan x="5170.5" dy="20">entropy = 0.918</tspan><tspan x="5170.5" dy="20">samples = 3</tspan><tspan x="5170.5" dy="20">value = [2, 1, 0, 0]</tspan></text></g>
<g id="n118" class="nd"><rect x="5278.5" y="1405" width="166" height="71" class="c1"/><text x="5361.5" y="1425.5">entropy = 0.0<tspan x="5361.5" dy="20">samples = 3</tspan><tspan x="5361.5" dy="20">value = [0, 3, 0, 0]</tspan></text></g>
<g id="n119" class="nd"><rect x="236.5" y="1544" width="166" height="71" class="c1"/><text x="319.5" y="1564.5">entropy = 0.0<tspan x="319.5" dy="20">samples = 1</tspan><tspan x="319.5" dy="20">value = [0, 1, 0, 0]</tspan></text></g>
<g id="n120" class="nd"><rect x="427.5" y="1544" width="166" height="71" class="c2"/><text x="510.5" y="1564.5">entropy = 0.0<tspan x="510.5" dy="20">samples = 2</tspan><tspan x="510.5" dy="20">value = [0, 0, 2, 0]</tspan></text></g>
<g id="n121" class="nd"><rect x="650" y="1544" width="166" height="71" class="c1"/><text x="733" y="1564.5">entropy = 0.0<tspan x="733" dy="20">samples = 2</tspan><tspan x="733" dy="20">value = [0, 2, 0, 0]</tspan></text></g>
<g id="n122" class="nd"><rect x="840.5" y="1544" width="166" height="71" class="c2"/><text x="923.5" y="1564.5">entropy = 0.0<tspan x="923.5" dy="20">samples = 1</tspan><tspan x="923.5" dy="20">value = [0, 0, 1, 0]</tspan></text></g>
<g id="n123" class="nd"><rect x="1632.5" y="1544" width="166" height="71" class="c2"/><text x="1715.5" y="1564.5">entropy = 0.0<tspan x="1715.5" dy="20">samples = 1</tspan><tspan x="1715.5" dy="20">value = [0, 0, 1, 0]</tspan></text></g>
<g id="n124" class="nd"><rect x="1823.5" y="1534" width="166" height="91" fill="#ffffff"/><text x="1906.5" y="1555">noPersons &lt;= 4.5<tspan x="1906.5" dy="20">entropy = 1.0</tspan><tspan x="1906.5" dy="20">samples = 2</tspan><tspan x="1906.5" dy="20">value = [0, 0, 1, 1]</tspan></text></g>
<g id="n125" class="nd"><rect x="2014" y="1544" width="166" height="71" class="c1"/><text x="2097" y="1564.5">entropy = 0.0<tspan x="2097" dy="20">samples = 2</tspan><tspan x="2097" dy="20">value = [0, 2, 0, 0]</tspan></text></g>
<g id="n126" class="nd"><rect x="2204.5" y="1534" width="166" height="91" fill="#ffffff"/><text x="2287.5" y="1555">noDoors &lt;= 2.5<tspan x="2287.5" dy="20">entropy = 1.0</tspan><tspan x="2287.5" dy="20">samples = 2</tspan><tspan x="2287.5" dy="20">value = [0, 1, 0, 1]</tspan></text></g>
<g id="n127" class="nd"><rect x="2395.5" y="1544" width="166" height="71" class="c1"/><text x="2478.5" y="1564.5">entropy = 0.0<tspan x="2478.5" dy="20">samples = 1</tspan><tspan x="2478.5" dy="20">value = [0, 1, 0, 0]</tspan></text></g>
<g id="n128" class="nd"><rect x="2586.5" y="1544" width="166" height="71" class="c0"/><text x="2669.5" y="1564.5">entropy = 0.0<tspan x="2669.5" dy="20">samples = 1</tspan><tspan x="2669.5" dy="20">value = [1, 0, 0, 0]</tspan></text></g>
<g id="n129" class="nd"><rect x="2873.5" y="1544" width="166" height="71" class="c0"/><text x="2956.5" y="1564.5">entropy = 0.0<tspan x="2956.5" dy="20">samples = 2</tspan><tspan x="2956.5" dy="20">value = [2, 0, 0, 0]</tspan></text></g>
<g id="n130" class="nd"><rect x="3063.5" y="1534" width="166" height="91" fill="#ffffff"/><text x="3146.5" y="1555">noPersons &lt;= 4.5<tspan x="3146.5" dy="20">entropy = 1.0</tspan><tspan x="3146.5" dy="20">samples = 2</tspan><tspan x="3146.5" dy="20">value = [1, 1, 0, 0]</tspan></text></g>
<g id="n131" class="nd"><rect x="3302.5" y="1544" width="166" height="71" class="c0"/><text x="3385.5" y="1564.5">entropy = 0.0<tspan x="3385.5" dy="20">samples = 2</tspan><tspan x="3385.5" dy="20">value = [2, 0, 0, 0]</tspan></text></g>
<g id="n132" class="nd"><rect x="3492.5" y="1544" width="166" height="71" class="c1"/><text x="3575.5" y="1564.5">entropy = 0.0<tspan x="3575.5" dy="20">samples = 2</tspan><tspan x="3575.5" dy="20">value = [0, 2, 0, 0]</tspan></text></g>
<g id="n133" class="nd"><rect x="4598.5" y="1544" width="166" height="71" class="c0"/><text x="4681.5" y="1564.5">entropy = 0.0<tspan x="4681.5" dy="20">samples = 4</tspan><tspan x="4681.5" dy="20">value = [4, 0, 0, 0]</tspan></text></g>
<g id="n134" class="nd"><rect x="4788.5" y="1544" width="166" height="71" class="c1"/><text x="4871.5" y="1564.5">entropy = 0.0<tspan x="4871.5" dy="20">samples = 4</tspan><tspan x="4871.5" dy="20">value = [0, 4, 0, 0]</tspan></text></g>
<g id="n135" class="nd"><rect x="4990.5" y="1544" width="166" height="71" class="c0"/><text x="5073.5" y="1564.5">entropy = 0.0<tspan x="5073.5" dy="20">samples = 1</tspan><tspan x="5073.5" dy="20">value = [1, 0, 0, 0]</tspan></text></g>
<g id="n136" class="nd"><rect x="5180.5" y="1534" width="166" height="91" fill="#ffffff"/><text x="5263.5" y="1555">noPersons &lt;= 4.5<tspan x="5263.5" dy="20">entropy = 1.0</tspan><tspan x="5263.5" dy="20">samples = 2</tspan><tspan x="5263.5" dy="20">value = [1, 1, 0, 0]</tspan></text></g>
<g id="n137" class="nd"><rect x="1680.5" y="1673" width="166" height="71" class="c2"/><text x="1763.5" y="1693.5">entropy = 0.0<tspan x="1763.5" dy="20">samples = 1</tspan><tspan x="1763.5" dy="20">value = [0, 0, 1, 0]</tspan></text></g>
<g id="n138" class="nd"><rect x="1870.5" y="1673" width="166" height="71" class="c3"/><text x="1953.5" y="1693.5">entropy = 0.0<tspan x="1953.5" dy="20">samples = 1</tspan><tspan x="1953.5" dy="20">value = [0, 0, 0, 1]</tspan></text></g>
<g id="n139" class="nd"><rect x="2156.5" y="1673" width="166" height="71" class="c1"/><text x="2239.5" y="1693.5">entropy = 0.0<tspan x="2239.5" dy="20">samples = 1</tspan><tspan x="2239.5" dy="20">value = [0, 1, 0, 0]</tspan></text></g>
<g id="n140" class="nd"><rect x="2347.5" y="1673" width="166" height="71" class="c3"/><text x="2430.5" y="1693.5">entropy = 0.0<tspan x="2430.5" dy="20">samples = 1</tspan><tspan x="2430.5" dy="20">value = [0, 0, 0, 1]</tspan></text></g>
<g id="n141" class="nd"><rect x="2969" y="1673" width="166" height="71" class="c0"/><text x="3052" y="1693.5">entropy = 0.0<tspan x="3052" dy="20">samples = 1</tspan><tspan x="3052" dy="20">value = [1, 0, 0, 0]</tspan></text></g>
<g id="n142" class="nd"><rect x="3159.5" y="1673" width="166" height="71" class="c1"/><text x="3242.5" y="1693.5">entropy = 0.0<tspan x="3242.5" dy="20">samples = 1</tspan><tspan x="3242.5" dy="20">value = [0, 1, 0, 0]</tspan></text></g>
<g id="n143" class="nd"><rect x="5085.5" y="1673" width="166" height="71" class="c0"/><text x="5168.5" y="1693.5">entropy = 0.0<tspan x="5168.5" dy="20">samples = 1</tspan><tspan x="5168.5" dy="20">value = [1, 0, 0, 0]</tspan></text></g>
<g id="n144" class="nd"><rect x="5275.5" y="1673" width="166" height="71" class="c1"/><text x="5358.5" y="1693.5">entropy = 0.0<tspan x="5358.5" dy="20">samples = 1</tspan><tspan x="5358.5" dy="20">value = [0, 1, 0, 0]</tspan></text></g>
</svg>
